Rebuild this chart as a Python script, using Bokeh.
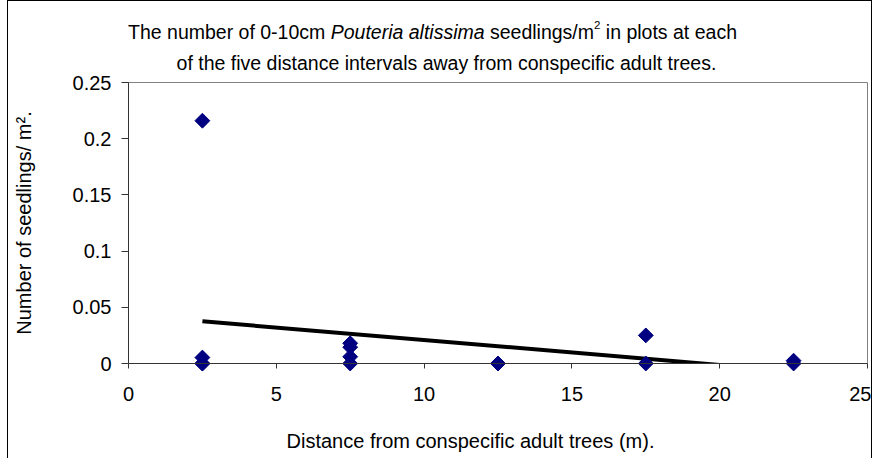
import numpy as np
from bokeh.plotting import figure
from bokeh.models import Label, Range1d, FixedTicker
from bokeh.embed import file_html
from bokeh.resources import INLINE

# ---- data ----
distance = [2.5, 2.5, 2.5, 2.5, 7.5, 7.5, 7.5, 7.5, 12.5, 12.5, 17.5, 17.5, 22.5, 22.5]
seedlings = [0.216, 0.0053, 0.0, 0.0, 0.018, 0.0145, 0.006, 0.0, 0.0, 0.0, 0.025, 0.0, 0.0025, 0.0]
trend_slope = -0.00222
trend_intercept = 0.0431
x_ticks = [0, 5, 10, 15, 20, 25]
y_ticks = [0, 0.05, 0.1, 0.15, 0.2, 0.25]
y_tick_labels = ["0", "0.05", "0.1", "0.15", "0.2", "0.25"]

title_line1 = [("The number of 0-10cm ", "normal", False),
               ("Pouteria altissima", "italic", False),
               (" seedlings/m", "normal", False),
               ("2", "normal", True),
               (" in plots at each", "normal", False)]
title_line2 = "of the five distance intervals away from conspecific adult trees."
x_label = "Distance from conspecific adult trees (m)."
y_label = "Number of seedlings/ m\u00b2."

FONT = "Liberation Sans"
# canvas placement on the page (px)
CANVAS_LEFT, CANVAS_TOP = 8, 1
W, H = 865, 458
# plot-area placement on the page (px)
PA_LEFT, PA_RIGHT, PA_TOP, PA_BOTTOM = 128, 867, 82, 363

x0_, x1_ = x_ticks[0], x_ticks[-1]
y0_, y1_ = y_ticks[0], y_ticks[-1]
kx = (PA_RIGHT - PA_LEFT) / (x1_ - x0_)
ky = (PA_BOTTOM - PA_TOP) / (y1_ - y0_)
x_start = x0_ - (PA_LEFT - CANVAS_LEFT) / kx
x_end = x1_ + (CANVAS_LEFT + W - PA_RIGHT) / kx
y_end = y1_ + (PA_TOP - CANVAS_TOP) / ky
y_start = y0_ - (CANVAS_TOP + H - PA_BOTTOM) / ky

# Arial / Liberation Sans advance widths (1/1000 em)
AW = {' ': 278, '-': 333, '.': 278, '/': 278, '(': 333, ')': 333,
      'T': 611, 'P': 667, 'D': 722}
for d in "0123456789":
    AW[d] = 556
AW.update({'a': 556, 'b': 556, 'c': 500, 'd': 556, 'e': 556, 'f': 278, 'g': 556,
           'h': 556, 'i': 222, 'l': 222, 'm': 833, 'n': 556, 'o': 556, 'p': 556,
           'r': 333, 's': 500, 't': 278, 'u': 556, 'v': 500, 'w': 722, 'y': 500,
           'x': 500, 'k': 500})


def tw(s, size):
    return sum(AW.get(c, 556) for c in s) * size / 1000.0


def sx(page_x):
    return page_x - CANVAS_LEFT


def sy(page_y):
    return CANVAS_TOP + H - page_y


p = figure(width=W, height=H, output_backend="svg", toolbar_location=None,
           x_range=Range1d(x_start, x_end), y_range=Range1d(y_start, y_end),
           min_border=0)
p.styles = {"margin-left": "7px", "border-left": "1px solid black",
            "border-top": "1px solid black", "border-right": "1px solid black"}
p.background_fill_color = "white"
p.border_fill_color = "white"
p.outline_line_color = None
p.xgrid.visible = False
p.ygrid.visible = False

for ax in (p.xaxis, p.yaxis):
    ax.fixed_location = 0
    ax.axis_line_color = "#333333"
    ax.major_tick_line_color = "#333333"
    ax.minor_tick_line_color = None
    ax.major_tick_in = 0
    ax.major_label_text_font = FONT
    ax.major_label_text_font_size = "20px"
    ax.major_label_text_color = "black"

p.xaxis.bounds = (x0_, x1_)
p.yaxis.bounds = (y0_, y1_)
p.xaxis.ticker = FixedTicker(ticks=x_ticks)
p.yaxis.ticker = FixedTicker(ticks=y_ticks)
p.yaxis.major_label_overrides = {t: l for t, l in zip(y_ticks, y_tick_labels)}
p.xaxis.major_tick_out = 5
p.yaxis.major_tick_out = 7
p.xaxis.major_label_standoff = 18
p.yaxis.major_label_standoff = 10

p.yaxis.axis_label = y_label
p.yaxis.axis_label_text_font = FONT
p.yaxis.axis_label_text_font_size = "20px"
p.yaxis.axis_label_text_font_style = "normal"
p.yaxis.axis_label_text_color = "black"
p.yaxis.axis_label_standoff = 35

# plot-area border (top and right, grey)
p.segment(x0=[x0_, x1_], y0=[y1_, y0_], x1=[x1_, x1_], y1=[y1_, y1_],
          line_color="#808080", line_width=1)

# linear trend line over the data range
tx = np.array([min(distance), max(distance)])
ty = trend_intercept + trend_slope * tx
p.line(tx, ty, line_color="black", line_width=4)
# clip everything below the x axis (as the plot area does)
p.quad(left=[x0_], right=[x1_], bottom=[y_start], top=[y0_],
       fill_color="white", line_color=None)

# points
p.scatter(distance, seedlings, marker="square", size=10.5, angle=np.pi / 4,
          fill_color="#000080", line_color="#000080")

# title line 1 (mixed styles)
TS = 19.5
SUP = 11.5
pieces = []
total = 0.0
for txt, style, sup in title_line1:
    size = SUP if sup else TS
    pieces.append((txt, style, sup, size, total))
    total += tw(txt, size)
start = 432 - total / 2.0
for txt, style, sup, size, off in pieces:
    lead = len(txt) - len(txt.lstrip(" "))
    xp = start + off + tw(txt[:lead], size)
    base = 31 - (7 if sup else 0)
    p.add_layout(Label(x=sx(xp), y=sy(base), x_units="screen", y_units="screen",
                       text=txt.strip(" "), text_font=FONT, text_font_size=f"{size}px",
                       text_font_style=style, text_color="black",
                       text_align="left", text_baseline="alphabetic"))

p.add_layout(Label(x=sx(446), y=sy(62), x_units="screen", y_units="screen",
                   text=title_line2, text_font=FONT, text_font_size=f"{TS}px",
                   text_color="black", text_align="center", text_baseline="alphabetic"))

p.add_layout(Label(x=sx(470), y=sy(440), x_units="screen", y_units="screen",
                   text=x_label, text_font=FONT, text_font_size="20px",
                   text_color="black", text_align="center", text_baseline="alphabetic"))

open("out.html", "w").write(file_html(p, INLINE))
